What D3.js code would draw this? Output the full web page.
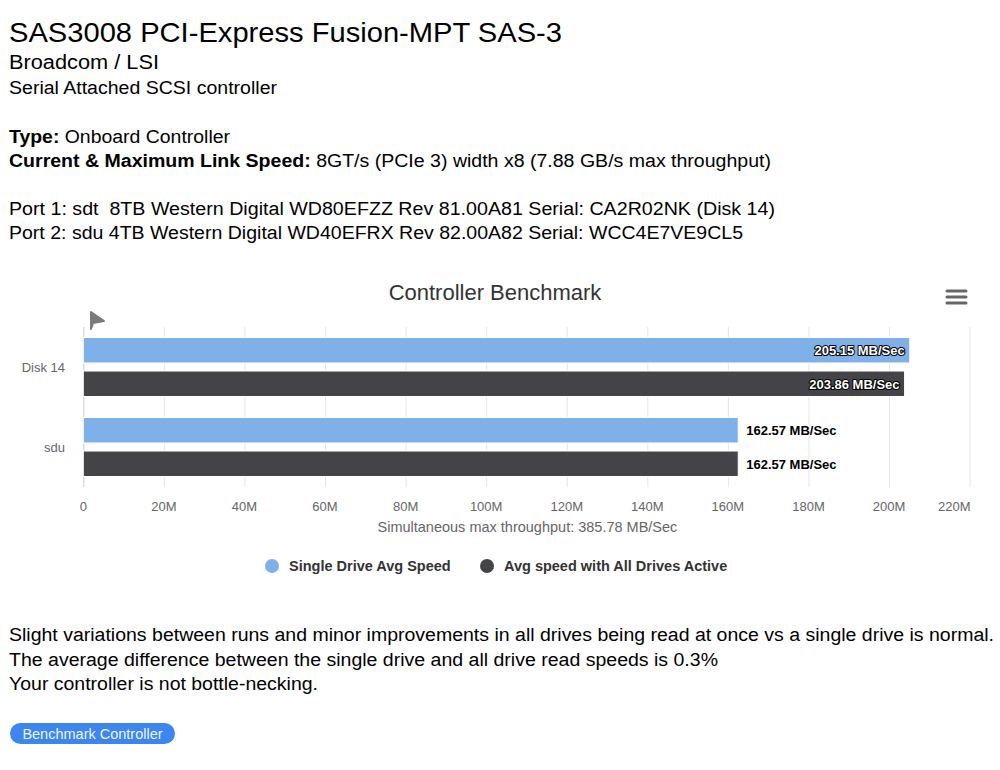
<!DOCTYPE html>
<html>
<head>
<meta charset="utf-8">
<script src="https://cdn.jsdelivr.net/npm/d3@7"></script>
<style>
  body { margin: 0; background: #fff; }
  svg { display: block; font-family: "Liberation Sans", Arial, sans-serif; }
  text { white-space: pre; }
</style>
</head>
<body>
<div id="page"></div>
<script>
// Chart data
var categories = ["Disk 14", "sdu"];
var seriesNames = ["Single Drive Avg Speed", "Avg speed with All Drives Active"];
var singleSpeed = [205.15, 162.57];   // MB/Sec
var allSpeed = [203.86, 162.57];      // MB/Sec
var xMax = 220;
var axisTitle = "Simultaneous max throughput: 385.78 MB/Sec";

// Page texts
var heading = "SAS3008 PCI-Express Fusion-MPT SAS-3";
var vendor = "Broadcom / LSI";
var devClass = "Serial Attached SCSI controller";
var portLines = [
  "Port 1: sdt  8TB Western Digital WD80EFZZ Rev 81.00A81 Serial: CA2R02NK (Disk 14)",
  "Port 2: sdu 4TB Western Digital WD40EFRX Rev 82.00A82 Serial: WCC4E7VE9CL5"
];
var noteLines = [
  "Slight variations between runs and minor improvements in all drives being read at once vs a single drive is normal.",
  "The average difference between the single drive and all drive read speeds is 0.3%",
  "Your controller is not bottle-necking."
];

var colors = ["#7fb0e8", "#434348"];

var W = 1000, H = 770;
var svg = d3.select("#page").append("svg")
            .attr("width", W)
            .attr("height", H);

// ---- header text ----
svg.append("text").attr("x", 9).attr("y", 42)
   .attr("font-size", 28).attr("fill", "#000")
   .attr("textLength", 553).attr("lengthAdjust", "spacingAndGlyphs")
   .text(heading);
svg.append("text").attr("x", 9).attr("y", 69)
   .attr("font-size", 20).attr("fill", "#000")
   .attr("textLength", 150).attr("lengthAdjust", "spacingAndGlyphs")
   .text(vendor);
svg.append("text").attr("x", 9).attr("y", 94)
   .attr("font-size", 18).attr("fill", "#000")
   .attr("textLength", 268).attr("lengthAdjust", "spacingAndGlyphs")
   .text(devClass);

var t1 = svg.append("text").attr("x", 9).attr("y", 143).attr("font-size", 18)
            .attr("textLength", 221).attr("lengthAdjust", "spacingAndGlyphs");
t1.append("tspan").attr("font-weight", "bold").text("Type:");
t1.append("tspan").text(" Onboard Controller");

var t2 = svg.append("text").attr("x", 9).attr("y", 167).attr("font-size", 18)
            .attr("textLength", 762).attr("lengthAdjust", "spacingAndGlyphs");
t2.append("tspan").attr("font-weight", "bold").text("Current & Maximum Link Speed:");
t2.append("tspan").text(" 8GT/s (PCIe 3) width x8 (7.88 GB/s max throughput)");

var portW = [766, 734];
svg.selectAll(".port").data(portLines).enter().append("text")
   .attr("class", "port")
   .attr("x", 9).attr("y", function(d, i) { return 215 + i * 24; })
   .attr("font-size", 18)
   .attr("textLength", function(d, i) { return portW[i]; })
   .attr("lengthAdjust", "spacingAndGlyphs")
   .text(function(d) { return d; });

// ---- chart ----
var plotTop = 327, plotBottom = 487;
var x = d3.scaleLinear().domain([0, xMax]).range([83.3, 969.6]);
var y0 = d3.scaleBand().domain(categories).range([plotTop, plotBottom]);
var y1 = d3.scaleBand().domain([0, 1]).range([10.5, 69.5]).paddingInner(0.24);

var chart = svg.append("g");

chart.append("text")
     .attr("x", 495).attr("y", 300)
     .attr("text-anchor", "middle")
     .attr("font-size", 22).attr("fill", "#333")
     .text("Controller Benchmark");

// menu icon
chart.selectAll(".menu").data([0, 1, 2]).enter().append("line")
     .attr("x1", 947).attr("x2", 966)
     .attr("y1", function(d) { return 291 + d * 6; })
     .attr("y2", function(d) { return 291 + d * 6; })
     .attr("stroke", "#666").attr("stroke-width", 3)
     .attr("stroke-linecap", "round");

// little pointer triangle
chart.append("path")
     .attr("d", "M91,312 L104,321 L93,323 L91,329 Z")
     .attr("fill", "#7a7a7a").attr("stroke", "#7a7a7a")
     .attr("stroke-width", 2).attr("stroke-linejoin", "round");

var ticks = x.ticks(11);

// gridlines
chart.selectAll(".grid").data(ticks).enter().append("line")
     .attr("x1", function(d) { return x(d) + 0.5; })
     .attr("x2", function(d) { return x(d) + 0.5; })
     .attr("y1", plotTop).attr("y2", plotBottom)
     .attr("stroke", "#e6e6e6").attr("stroke-width", 1);

// category axis line
chart.append("line")
     .attr("x1", x(0) + 0.5).attr("x2", x(0) + 0.5)
     .attr("y1", plotTop).attr("y2", plotBottom)
     .attr("stroke", "#ccd6eb");

chart.selectAll(".cat").data(categories).enter().append("text")
     .attr("x", 65)
     .attr("y", function(d) { return y0(d) + y0.bandwidth() / 2 + 5; })
     .attr("text-anchor", "end")
     .attr("font-size", 13).attr("fill", "#666")
     .text(function(d) { return d; });

// tick labels
chart.selectAll(".tick").data(ticks).enter().append("text")
     .attr("x", function(d, i) { return i === ticks.length - 1 ? x(d) + 1 : x(d); })
     .attr("y", 511)
     .attr("text-anchor", function(d, i) { return i === ticks.length - 1 ? "end" : "middle"; })
     .attr("font-size", 13).attr("fill", "#666")
     .text(function(d) { return d === 0 ? "0" : d + "M"; });

chart.append("text")
     .attr("x", (x(0) + x(xMax)) / 2 + 1).attr("y", 532)
     .attr("text-anchor", "middle")
     .attr("font-size", 14.5).attr("fill", "#666")
     .text(axisTitle);

// bars
var rows = categories.map(function(c, i) {
  return { cat: c, vals: [singleSpeed[i], allSpeed[i]] };
});

var groups = chart.selectAll(".row").data(rows).enter().append("g")
     .attr("transform", function(d) { return "translate(0," + y0(d.cat) + ")"; });

groups.selectAll("rect")
      .data(function(d) { return d.vals; })
      .enter().append("rect")
      .attr("x", x(0))
      .attr("y", function(d, i) { return y1(i); })
      .attr("width", function(d) { return x(d) - x(0); })
      .attr("height", y1.bandwidth())
      .attr("fill", function(d, i) { return colors[i]; })
      .attr("stroke", "#fff").attr("stroke-width", 1);

// data labels: inside bar when there is no room to the right
groups.selectAll(".lbl")
      .data(function(d) { return d.vals; })
      .enter().append("text")
      .each(function(d, i) {
        var inside = x(d) + 100 > x(xMax);
        var t = d3.select(this)
          .attr("x", inside ? x(d) - 5 : x(d) + 8)
          .attr("y", y1(i) + y1.bandwidth() / 2 + 5)
          .attr("text-anchor", inside ? "end" : "start")
          .attr("font-size", 13).attr("font-weight", "bold")
          .attr("paint-order", "stroke")
          .attr("stroke-linejoin", "round")
          .text(d.toFixed(2) + " MB/Sec");
        if (inside) {
          t.attr("fill", "#fff").attr("stroke", "#000").attr("stroke-width", 2);
        } else {
          t.attr("fill", "#000").attr("stroke", "#fff").attr("stroke-width", 2);
        }
      });

// legend
var legendX = [272, 487];
var leg = chart.selectAll(".leg").data(seriesNames).enter().append("g")
     .attr("transform", function(d, i) { return "translate(" + legendX[i] + ",566)"; });
leg.append("circle").attr("r", 7)
   .attr("fill", function(d, i) { return colors[i]; });
leg.append("text").attr("x", 17).attr("y", 5)
   .attr("font-size", 14.5).attr("font-weight", "bold").attr("fill", "#333")
   .text(function(d) { return d; });

// ---- notes ----
var noteW = [985, 709, 309];
svg.selectAll(".note").data(noteLines).enter().append("text")
   .attr("x", 9).attr("y", function(d, i) { return 641 + i * 24.5; })
   .attr("font-size", 18)
   .attr("textLength", function(d, i) { return noteW[i]; })
   .attr("lengthAdjust", "spacingAndGlyphs")
   .text(function(d) { return d; });

// button
var btn = svg.append("g").attr("transform", "translate(10,723)");
btn.append("rect").attr("width", 165).attr("height", 21).attr("rx", 10.5)
   .attr("fill", "#3d86ef");
btn.append("text").attr("x", 82.5).attr("y", 15.5)
   .attr("text-anchor", "middle").attr("font-size", 14.5).attr("fill", "#eef4ff")
   .text("Benchmark Controller");
</script>
</body>
</html>
